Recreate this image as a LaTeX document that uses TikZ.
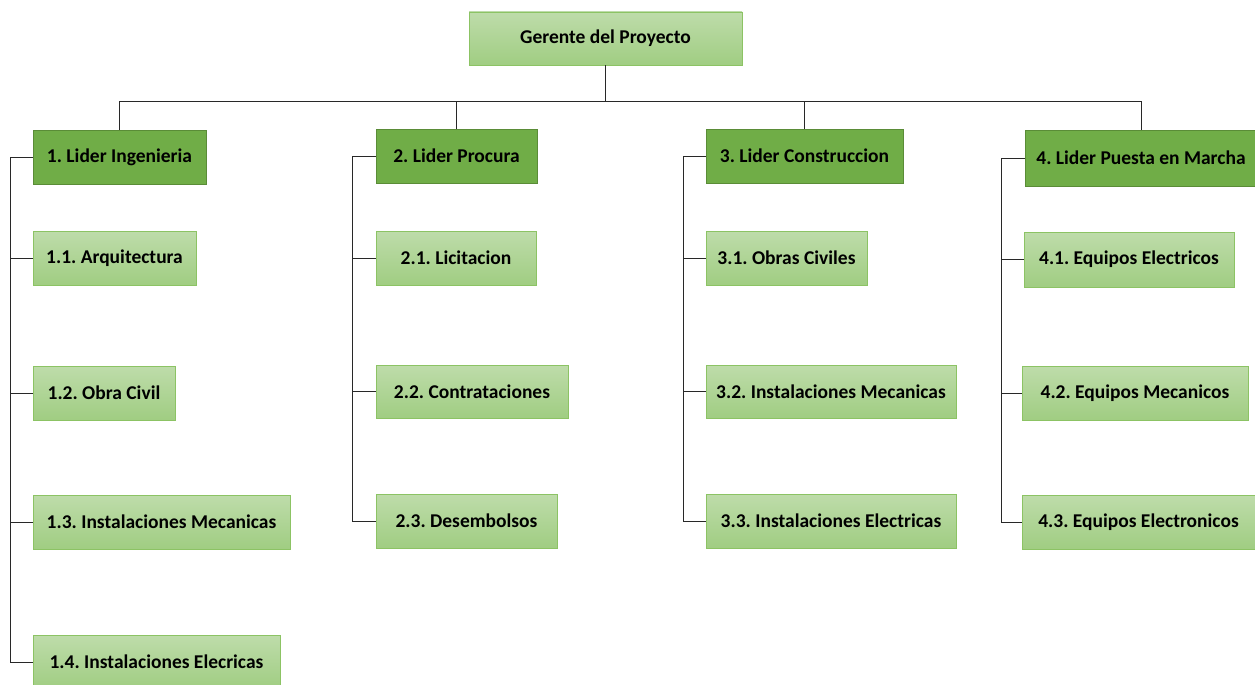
\documentclass[tikz,border=0pt]{standalone}
\usepackage{fontspec}
\setmainfont{Carlito}
\begin{document}
\frenchspacing
\begin{tikzpicture}[x=1pt,y=-1pt,
  box/.style={rectangle, inner sep=0pt, font=\fontsize{19.5}{22}\selectfont\bfseries\frenchspacing, text=black, line width=0.8pt},
  sub/.style={box, draw={rgb,255:red,140;green,195;blue,100}, top color={rgb,255:red,190;green,220;blue,170}, bottom color={rgb,255:red,160;green,205;blue,130}},
  lead/.style={box, draw={rgb,255:red,90;green,140;blue,55}, fill={rgb,255:red,112;green,173;blue,71}},
  conn/.style={draw={rgb,255:red,40;green,40;blue,40}, line width=0.8pt}]
\clip (0,0) rectangle (1255,685);
\useasboundingbox (0,0) rectangle (1255,685);
\fill[white] (0,0) rectangle (1255,685);

\node[sub, minimum width=273, minimum height=53] (G) at (605.5,38.5) {Gerente del Proyecto};

\node[lead, minimum width=173, minimum height=54] (L1) at (119.5,157) {1. Lider Ingenieria};
\node[lead, minimum width=161, minimum height=54] (L2) at (456.5,156) {2. Lider Procura};
\node[lead, minimum width=197, minimum height=54] (L3) at (804.5,156) {3. Lider Construccion};
\node[lead, minimum width=232, minimum height=56] (L4) at (1141,158) {4. Lider Puesta en Marcha};

\node[sub, minimum width=163, minimum height=54] (c11) at (114.5,258) {1.1. Arquitectura};
\node[sub, minimum width=142, minimum height=54] (c12) at (104,393) {1.2. Obra Civil};
\node[sub, minimum width=257, minimum height=54] (c13) at (161.5,522) {1.3. Instalaciones Mecanicas};
\node[sub, minimum width=247, minimum height=54] (c14) at (156.5,662) {1.4. Instalaciones Elecricas};

\node[sub, minimum width=160, minimum height=54] (c21) at (456,258) {2.1. Licitacion};
\node[sub, minimum width=192, minimum height=53] (c22) at (472,391.5) {2.2. Contrataciones};
\node[sub, minimum width=181, minimum height=54] (c23) at (466.5,521) {2.3. Desembolsos};

\node[sub, minimum width=161, minimum height=54] (c31) at (786.5,258) {3.1. Obras Civiles};
\node[sub, minimum width=250, minimum height=53] (c32) at (831,391.5) {3.2. Instalaciones Mecanicas};
\node[sub, minimum width=250, minimum height=54] (c33) at (831,521) {3.3. Instalaciones Electricas};

\node[sub, minimum width=210, minimum height=55] (c41) at (1129,259.5) {4.1. Equipos Electricos};
\node[sub, minimum width=226, minimum height=54] (c42) at (1135,393) {4.2. Equipos Mecanicos};
\node[sub, minimum width=233, minimum height=54] (c43) at (1138.5,522) {4.3. Equipos Electronicos};

% top tree
\coordinate (bar) at (605,101);
\draw[conn] (G.south) -- (G.south |- bar);
\draw[conn] (L1.north) |- (L4.north |- bar) -- (L4.north);
\draw[conn] (L2.north) -- (L2.north |- bar);
\draw[conn] (L3.north) -- (L3.north |- bar);

% column 1
\coordinate (k1) at (10,157);
\draw[conn] (L1.west) -- (k1) |- (c14.west);
\draw[conn] (k1 |- c11.west) -- (c11.west);
\draw[conn] (k1 |- c12.west) -- (c12.west);
\draw[conn] (k1 |- c13.west) -- (c13.west);

% column 2
\coordinate (k2) at (352,156);
\draw[conn] (L2.west) -- (k2) |- (c23.west);
\draw[conn] (k2 |- c21.west) -- (c21.west);
\draw[conn] (k2 |- c22.west) -- (c22.west);

% column 3
\coordinate (k3) at (683,156);
\draw[conn] (L3.west) -- (k3) |- (c33.west);
\draw[conn] (k3 |- c31.west) -- (c31.west);
\draw[conn] (k3 |- c32.west) -- (c32.west);

% column 4
\coordinate (k4) at (1001,158);
\draw[conn] (L4.west) -- (k4) |- (c43.west);
\draw[conn] (k4 |- c41.west) -- (c41.west);
\draw[conn] (k4 |- c42.west) -- (c42.west);
\end{tikzpicture}
\end{document}
